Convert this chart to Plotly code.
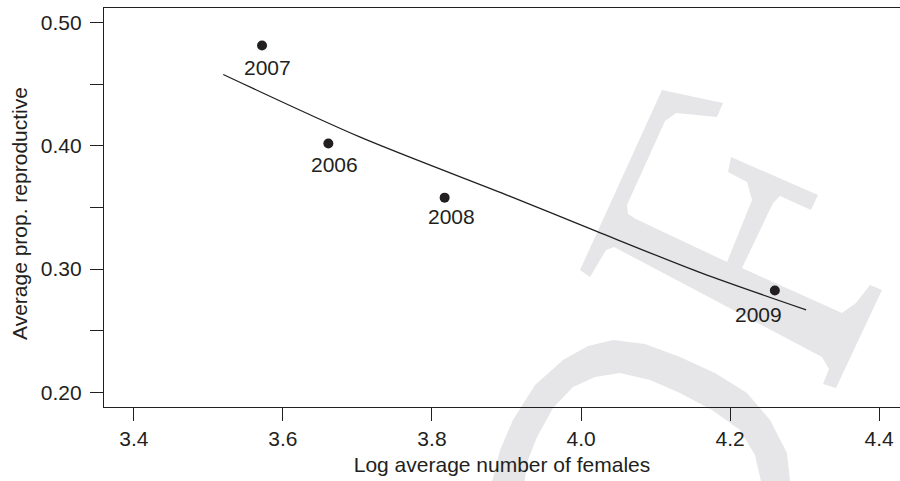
import plotly.graph_objects as go

# ---------------- data ----------------
years = ["2006", "2007", "2008", "2009"]
log_females = [3.661, 3.572, 3.817, 4.260]
prop_repro = [0.402, 0.4815, 0.358, 0.2826]

fit_x = [3.520, 3.703, 3.905, 4.021, 4.162, 4.302]
fit_y = [0.458, 0.4073, 0.359, 0.3306, 0.2967, 0.2669]

x_ticks = [3.4, 3.6, 3.8, 4.0, 4.2, 4.4]
x_tick_labels = ["3.4", "3.6", "3.8", "4.0", "4.2", "4.4"]
y_ticks = [0.20, 0.25, 0.30, 0.35, 0.40, 0.45, 0.50]
y_tick_labels = ["0.20", "", "0.30", "", "0.40", "", "0.50"]

x_title = "Log average number of females"
y_title = "Average prop. reproductive"

# ---------------- styling / layout constants ----------------
W, H = 900, 481
ML, MR, MT, MB = 104, 0, 8, 74
PW, PH = W - ML - MR, H - MT - MB
INK = "#231f20"
FONT = "Liberation Sans, Arial, Helvetica, sans-serif"
FS = 21

# label offsets (pixels, +dx right, +dy down) for the year labels
label_dx = [6, 5, 7, -16]
label_dy = [21, 22, 19, 24]

# background watermark outlines (image pixel coordinates)
wm_letter = [(662, 90), (723, 103), (717, 117), (676, 113), (665, 121), (627, 205),
             (628, 214), (636, 219), (727, 262), (752, 200), (747, 182), (728, 172),
             (731, 157), (818, 195), (811, 210), (780, 196), (773, 203), (742, 268),
             (842, 313), (856, 303), (870, 285), (882, 290), (836, 388), (823, 384),
             (829, 369), (822, 357), (614, 247), (606, 250), (590, 277), (580, 270)]
wm_arc_outer = [(490, 490), (500, 450), (513, 420), (535, 385), (563, 360), (588, 346),
                (613, 340), (645, 344), (680, 357), (715, 373), (747, 393), (770, 420),
                (787, 453), (791, 490)]
wm_arc_inner = [(763, 490), (755, 455), (740, 430), (712, 410), (680, 393), (650, 380),
                (620, 373), (595, 377), (573, 387), (553, 408), (537, 437), (528, 460),
                (523, 490)]


def px_to_paper(pts):
    return [((x - ML) / PW, (MT + PH - y) / PH) for x, y in pts]


def poly_path(pts):
    p = px_to_paper(pts)
    return "M " + " L ".join(f"{a:.4f},{b:.4f}" for a, b in p) + " Z"


fig = go.Figure()

fig.add_trace(go.Scatter(
    x=fit_x, y=fit_y, mode="lines",
    line=dict(color=INK, width=1.3, shape="spline", smoothing=0.8),
    hoverinfo="skip", showlegend=False))

fig.add_trace(go.Scatter(
    x=log_females, y=prop_repro, mode="markers",
    marker=dict(size=10, color=INK),
    showlegend=False))

for yr, xv, yv, dx, dy in zip(years, log_females, prop_repro, label_dx, label_dy):
    fig.add_annotation(x=xv, y=yv, text=yr, showarrow=False,
                       xshift=dx, yshift=-dy,
                       font=dict(family=FONT, size=FS, color=INK))

# y-axis title placed as rotated text
fig.add_annotation(xref="paper", yref="paper",
                   x=(19 - ML) / PW, y=(MT + PH - 214) / PH,
                   xanchor="center", yanchor="middle", textangle=-90,
                   text=y_title, showarrow=False,
                   font=dict(family=FONT, size=FS, color=INK))

shapes = [
    dict(type="path", xref="paper", yref="paper", path=poly_path(wm_letter),
         fillcolor="#e6e6e8", line=dict(width=0), layer="below"),
    dict(type="path", xref="paper", yref="paper",
         path=poly_path(wm_arc_outer + wm_arc_inner),
         fillcolor="#e6e6e8", line=dict(width=0), layer="below"),
]

fig.update_layout(
    width=W, height=H,
    margin=dict(l=ML, r=MR, t=MT, b=MB, pad=0),
    paper_bgcolor="white", plot_bgcolor="rgba(0,0,0,0)",
    font=dict(family=FONT, size=FS, color=INK),
    shapes=shapes,
    showlegend=False,
    xaxis=dict(
        range=[3.36, 3.36 + 1.08 * PW / 805.0],
        tickmode="array", tickvals=x_ticks, ticktext=x_tick_labels,
        ticks="outside", ticklen=13, tickwidth=1.2, tickcolor=INK,
        showline=True, linecolor=INK, linewidth=1.2, mirror=True,
        showgrid=False, zeroline=False, automargin=False,
        tickfont=dict(family=FONT, size=FS, color=INK),
        title=dict(text=x_title, standoff=8,
                   font=dict(family=FONT, size=FS, color=INK)),
    ),
    yaxis=dict(
        range=[0.188, 0.512],
        tickmode="array", tickvals=y_ticks, ticktext=y_tick_labels,
        ticks="outside", ticklen=13, tickwidth=1.2, tickcolor=INK,
        ticklabelstandoff=4,
        showline=True, linecolor=INK, linewidth=1.2, mirror=False,
        showgrid=False, zeroline=False, automargin=False,
        tickfont=dict(family=FONT, size=FS, color=INK),
    ),
)

fig.write_html("out.html")
